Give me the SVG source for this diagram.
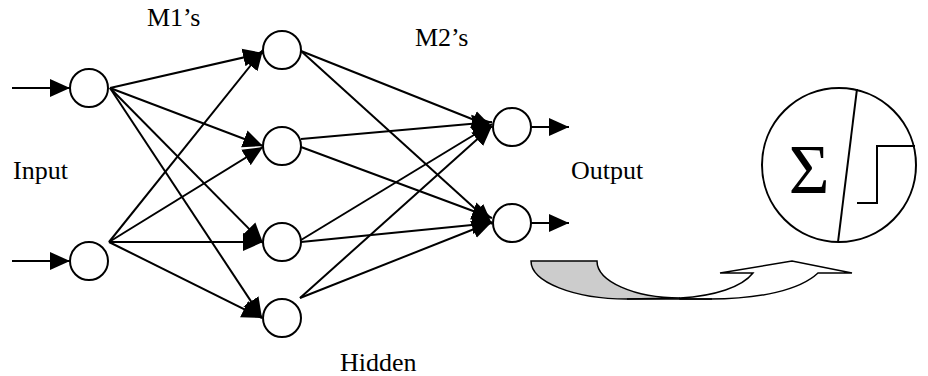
<svg xmlns="http://www.w3.org/2000/svg" width="928" height="376" viewBox="0 0 928 376">
<style>
  .node { fill: #ffffff; stroke: #000000; stroke-width: 2; }
  .edge { fill: none; stroke: #000000; stroke-width: 2; marker-end: url(#ah); }
  .lbl { font-family: "Liberation Serif", "Times New Roman", serif; font-size: 26px; fill: #000000; }
  .thin { fill: none; stroke: #000000; stroke-width: 2; }
</style>
<defs>
  <marker id="ah" viewBox="0 0 20 20" refX="20" refY="10" markerWidth="20" markerHeight="20" markerUnits="userSpaceOnUse" orient="auto">
    <path d="M0,1 L20,10 L0,19 z" fill="#000000"/>
  </marker>
</defs>
<rect width="928" height="376" fill="#ffffff"/>

<g id="connectors">
  <line class="edge" x1="12" y1="88" x2="70" y2="88"/>
  <line class="edge" x1="12" y1="261" x2="70" y2="261"/>
  <line class="edge" x1="110" y1="88" x2="263" y2="53"/>
  <line class="edge" x1="110" y1="88" x2="263" y2="146"/>
  <line class="edge" x1="110" y1="88" x2="263" y2="243"/>
  <line class="edge" x1="110" y1="88" x2="262" y2="318"/>
  <line class="edge" x1="109" y1="242" x2="263" y2="50"/>
  <line class="edge" x1="109" y1="242" x2="263" y2="147"/>
  <line class="edge" x1="109" y1="242" x2="263" y2="242"/>
  <line class="edge" x1="109" y1="242" x2="262" y2="318"/>
  <line class="edge" x1="301" y1="51" x2="492" y2="127"/>
  <line class="edge" x1="301" y1="51" x2="492" y2="224"/>
  <line class="edge" x1="301" y1="139" x2="492" y2="122"/>
  <line class="edge" x1="301" y1="147" x2="492" y2="218"/>
  <line class="edge" x1="301" y1="240" x2="492" y2="124"/>
  <line class="edge" x1="301" y1="242" x2="492" y2="223"/>
  <line class="edge" x1="300" y1="298" x2="492" y2="126"/>
  <line class="edge" x1="300" y1="298" x2="492" y2="222"/>
  <line class="edge" x1="531" y1="127" x2="569" y2="127"/>
  <line class="edge" x1="531" y1="223" x2="569" y2="223"/>
</g>

<g id="input1"><circle class="node" cx="89" cy="88" r="19"/></g>
<g id="input2"><circle class="node" cx="89" cy="261" r="19"/></g>
<g id="hidden1"><circle class="node" cx="282" cy="50" r="19"/></g>
<g id="hidden2"><circle class="node" cx="282" cy="146" r="19"/></g>
<g id="hidden3"><circle class="node" cx="282" cy="242" r="19"/></g>
<g id="hidden4"><circle class="node" cx="282" cy="318" r="19"/></g>
<g id="output1"><circle class="node" cx="512" cy="127" r="19"/></g>
<g id="output2"><circle class="node" cx="512" cy="223" r="19"/></g>

<g id="labels">
  <text class="lbl" x="147" y="26">M1’s</text>
  <text class="lbl" x="415" y="46">M2’s</text>
  <text class="lbl" x="13" y="179">Input</text>
  <text class="lbl" x="571" y="179">Output</text>
  <text class="lbl" x="340" y="371">Hidden</text>
</g>

<g id="curved-arrow" stroke="#000000" stroke-width="1.5" stroke-linejoin="miter">
  <path d="M531,261 H597 A83,37 0 0 0 680,298 L627,299 A96,38 0 0 1 531,261 Z" fill="#cccccc"/>
  <path d="M680,298 C715,296 742,287 753,273 L720,273 L792,261 L852,273 L818,273 C800,290 760,299 710,299 L680,299 Z" fill="#ffffff"/>
  <line x1="627" y1="299" x2="712" y2="299"/>
</g>

<g id="neuron">
  <ellipse class="node" cx="839" cy="165" rx="77" ry="77"/>
  <line class="thin" x1="857" y1="89" x2="838" y2="242"/>
  <text x="809" y="193" text-anchor="middle" font-family="Liberation Serif, Times New Roman, serif" font-size="70">Σ</text>
  <path class="thin" d="M857,203 H877 V146 H915"/>
</g>
</svg>
